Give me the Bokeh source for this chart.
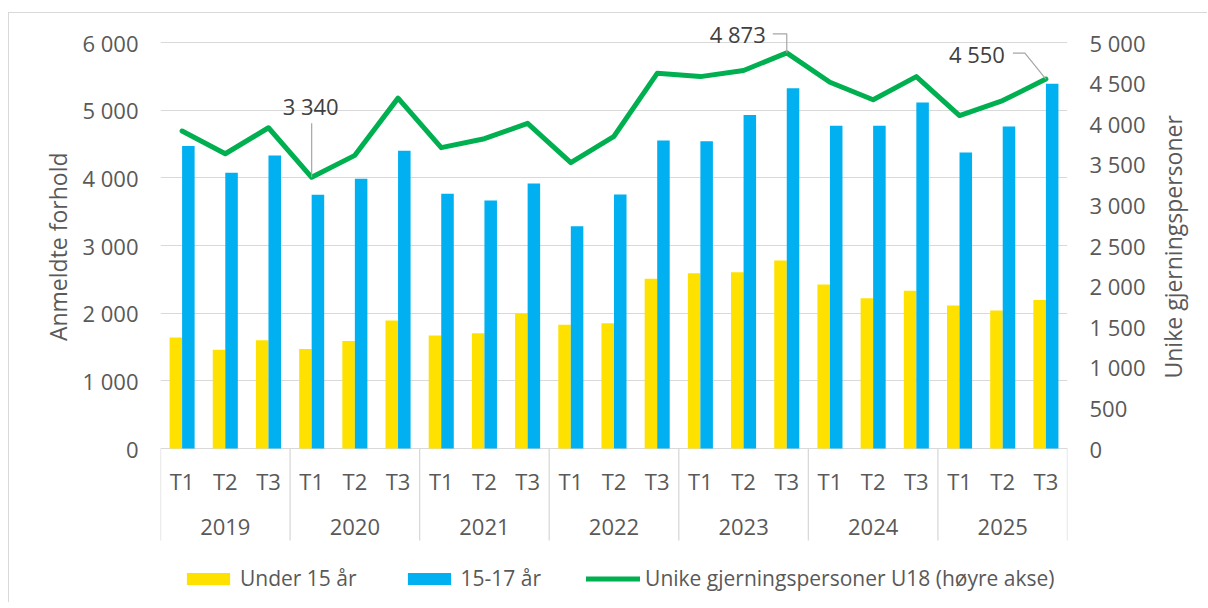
import math
from bokeh.plotting import figure
from bokeh.models import (Range1d, LinearAxis, FixedTicker, ColumnDataSource, Legend, LegendItem)
from bokeh.core.properties import value
from bokeh.transform import dodge
from bokeh.embed import file_html
from bokeh.resources import INLINE

# ---------------- data ----------------
years = ["2019", "2020", "2021", "2022", "2023", "2024", "2025"]
terms = ["T1", "T2", "T3"]
under15 = [1640, 1460, 1600, 1470, 1590, 1890, 1670, 1705, 1995, 1830, 1850, 2510,
           2590, 2605, 2780, 2425, 2220, 2330, 2115, 2040, 2195]
age15_17 = [4470, 4075, 4330, 3750, 3985, 4400, 3765, 3665, 3915, 3285, 3755, 4550,
            4540, 4930, 5325, 4770, 4770, 5115, 4375, 4760, 5390]
unique_u18 = [3910, 3630, 3950, 3340, 3610, 4315, 3705, 3815, 4005, 3520, 3845, 4620,
              4580, 4655, 4873, 4510, 4295, 4580, 4100, 4285, 4550]
left_ticks = [0, 1000, 2000, 3000, 4000, 5000, 6000]
right_ticks = [0, 500, 1000, 1500, 2000, 2500, 3000, 3500, 4000, 4500, 5000]
callout_periods = [("2020", "T1"), ("2023", "T3"), ("2025", "T3")]
series_names = ["Under 15 år", "15-17 år", "Unike gjerningspersoner U18 (høyre akse)"]
left_title = "Anmeldte forhold"
right_title = "Unike gjerningspersoner"

# ---------------- style / layout ----------------
FONT = "Open Sans"
TXT = "#595959"
GRID = "#d9d9d9"
YELLOW = "#FFE100"
BLUE = "#00B0F0"
GREEN = "#00B050"
FS = "22px"
FRAME_W = 907
GRID_H = 406      # px from value 0 to top tick
ABOVE_PX = 430    # px from baseline to frame top
BELOW_PX = 150    # px from baseline to frame bottom (category rows + legend live here)
FRAME_H = ABOVE_PX + BELOW_PX
BAR_W = 0.29
n = len(years) * len(terms)
labels_t = [t for y in years for t in terms]
xs = list(range(n))
centers = [len(terms) * g + 1 for g in range(len(years))]
bounds = [len(terms) * g - 0.5 for g in range(len(years) + 1)]

def fmt(v):
    return f"{v:,}".replace(",", " ")

UL = left_ticks[-1] / GRID_H     # left-axis units per px
UR = right_ticks[-1] / GRID_H    # right-axis units per px
PX_X = FRAME_W / n

p = figure(frame_width=FRAME_W, frame_height=FRAME_H,
           x_range=Range1d(-0.5, n - 0.5),
           y_range=Range1d(-BELOW_PX * UL, ABOVE_PX * UL),
           x_axis_location=None, y_axis_location="left",
           output_backend="svg", toolbar_location=None,
           min_border_left=151, min_border_right=138, min_border_top=5, min_border_bottom=4)
p.extra_y_ranges = {"right": Range1d(-BELOW_PX * UR, ABOVE_PX * UR)}
p.outline_line_color = None
p.background_fill_color = "white"
p.border_fill_color = "white"
p.styles = {"border-top": "1px solid #d9d9d9", "border-left": "1px solid #d9d9d9",
            "margin-top": "12px", "margin-left": "8px"}

src = ColumnDataSource(dict(x=xs, a=under15, b=age15_17, u=unique_u18))

def style_axis(ax, size=FS):
    ax.axis_line_color = None
    ax.major_tick_line_color = None
    ax.minor_tick_line_color = None
    ax.major_tick_out = 0
    ax.major_tick_in = 0
    ax.major_label_text_font = FONT
    ax.major_label_text_font_size = size
    ax.major_label_text_color = TXT

# left axis
ya = p.yaxis[0]
ya.ticker = FixedTicker(ticks=left_ticks)
ya.major_label_overrides = {t: fmt(t) for t in left_ticks}
style_axis(ya)
ya.major_label_standoff = 22

# left title as a rotated single label (text top at anchor)
lt_anchor = 296 * UL
la2 = LinearAxis(ticker=FixedTicker(ticks=[lt_anchor]))
la2.major_label_overrides = {lt_anchor: left_title}
la2.major_label_orientation = math.pi / 2
style_axis(la2, "23px")
la2.major_label_standoff = 22
p.add_layout(la2, "left")

p.ygrid.ticker = FixedTicker(ticks=left_ticks)
p.ygrid.grid_line_color = GRID
p.xgrid.visible = False

# right axis
ra = LinearAxis(y_range_name="right", ticker=FixedTicker(ticks=right_ticks))
ra.major_label_overrides = {t: fmt(t) for t in right_ticks}
style_axis(ra)
ra.major_label_standoff = 22
p.add_layout(ra, "right")

# right title as a rotated single label (text bottom at anchor)
rt_anchor = 70 * UR
ra2 = LinearAxis(y_range_name="right", ticker=FixedTicker(ticks=[rt_anchor]))
ra2.major_label_overrides = {rt_anchor: right_title}
ra2.major_label_orientation = math.pi / 2
style_axis(ra2, "23px")
ra2.major_label_standoff = 24
p.add_layout(ra2, "right")

# category rows under the baseline: separators, term labels, year labels
p.segment(x0=bounds, y0=[0] * len(bounds), x1=bounds, y1=[-92 * UL] * len(bounds),
          line_color=GRID, line_width=1.3)
p.text(x=xs, y=[-32 * UL] * n, text=labels_t, text_font=value(FONT), text_font_size=FS,
       text_color=TXT, text_align="center", text_baseline="middle")
p.text(x=centers, y=[-78 * UL] * len(centers), text=years, text_font=value(FONT),
       text_font_size=FS, text_color=TXT, text_align="center", text_baseline="middle")

# glyphs
r1 = p.vbar(x=dodge("x", -BAR_W / 2, range=p.x_range), top="a", width=BAR_W, source=src,
            fill_color=YELLOW, line_color=None)
r2 = p.vbar(x=dodge("x", BAR_W / 2, range=p.x_range), top="b", width=BAR_W, source=src,
            fill_color=BLUE, line_color=None)
r3 = p.line(x="x", y="u", source=src, y_range_name="right", line_color=GREEN,
            line_width=5, line_join="round", line_cap="round")

# callouts (data labels with leader lines), pixel offsets relative to point
callout_style = [
    dict(label=(-1, 71), leader=[(0, 54), (0, 0)]),
    dict(label=(-49, 19), leader=[(-14, 19), (0, 19), (0, 0)]),
    dict(label=(-69, 25), leader=[(-33, 26), (-21, 26), (0, 0)]),
]
tx, ty, tt, lxs, lys = [], [], [], [], []
for (yr, tm), st in zip(callout_periods, callout_style):
    i = years.index(yr) * len(terms) + terms.index(tm)
    v = unique_u18[i]
    tx.append(i + st["label"][0] / PX_X)
    ty.append(v + st["label"][1] * UR)
    tt.append(fmt(v))
    lxs.append([i + dx / PX_X for dx, dy in st["leader"]])
    lys.append([v + dy * UR for dx, dy in st["leader"]])
p.multi_line(xs=lxs, ys=lys, y_range_name="right", line_color="#a6a6a6", line_width=1.2)
p.text(x=tx, y=ty, text=tt, y_range_name="right", text_font=value(FONT),
       text_font_size=FS, text_color="#404040", text_align="center",
       text_baseline="middle")

legend = Legend(items=[LegendItem(label=series_names[0], renderers=[r1]),
                       LegendItem(label=series_names[1], renderers=[r2]),
                       LegendItem(label=series_names[2], renderers=[r3])],
                orientation="horizontal", location=(21, 6))
legend.glyph_width = 54
legend.glyph_height = 15
legend.label_standoff = 5
legend.spacing = 45
legend.padding = 0
legend.margin = 0
legend.border_line_color = None
legend.background_fill_alpha = 0
legend.label_text_font = FONT
legend.label_text_font_size = "21px"
legend.label_text_color = TXT
p.add_layout(legend, "center")

open("out.html", "w").write(file_html(p, INLINE))
